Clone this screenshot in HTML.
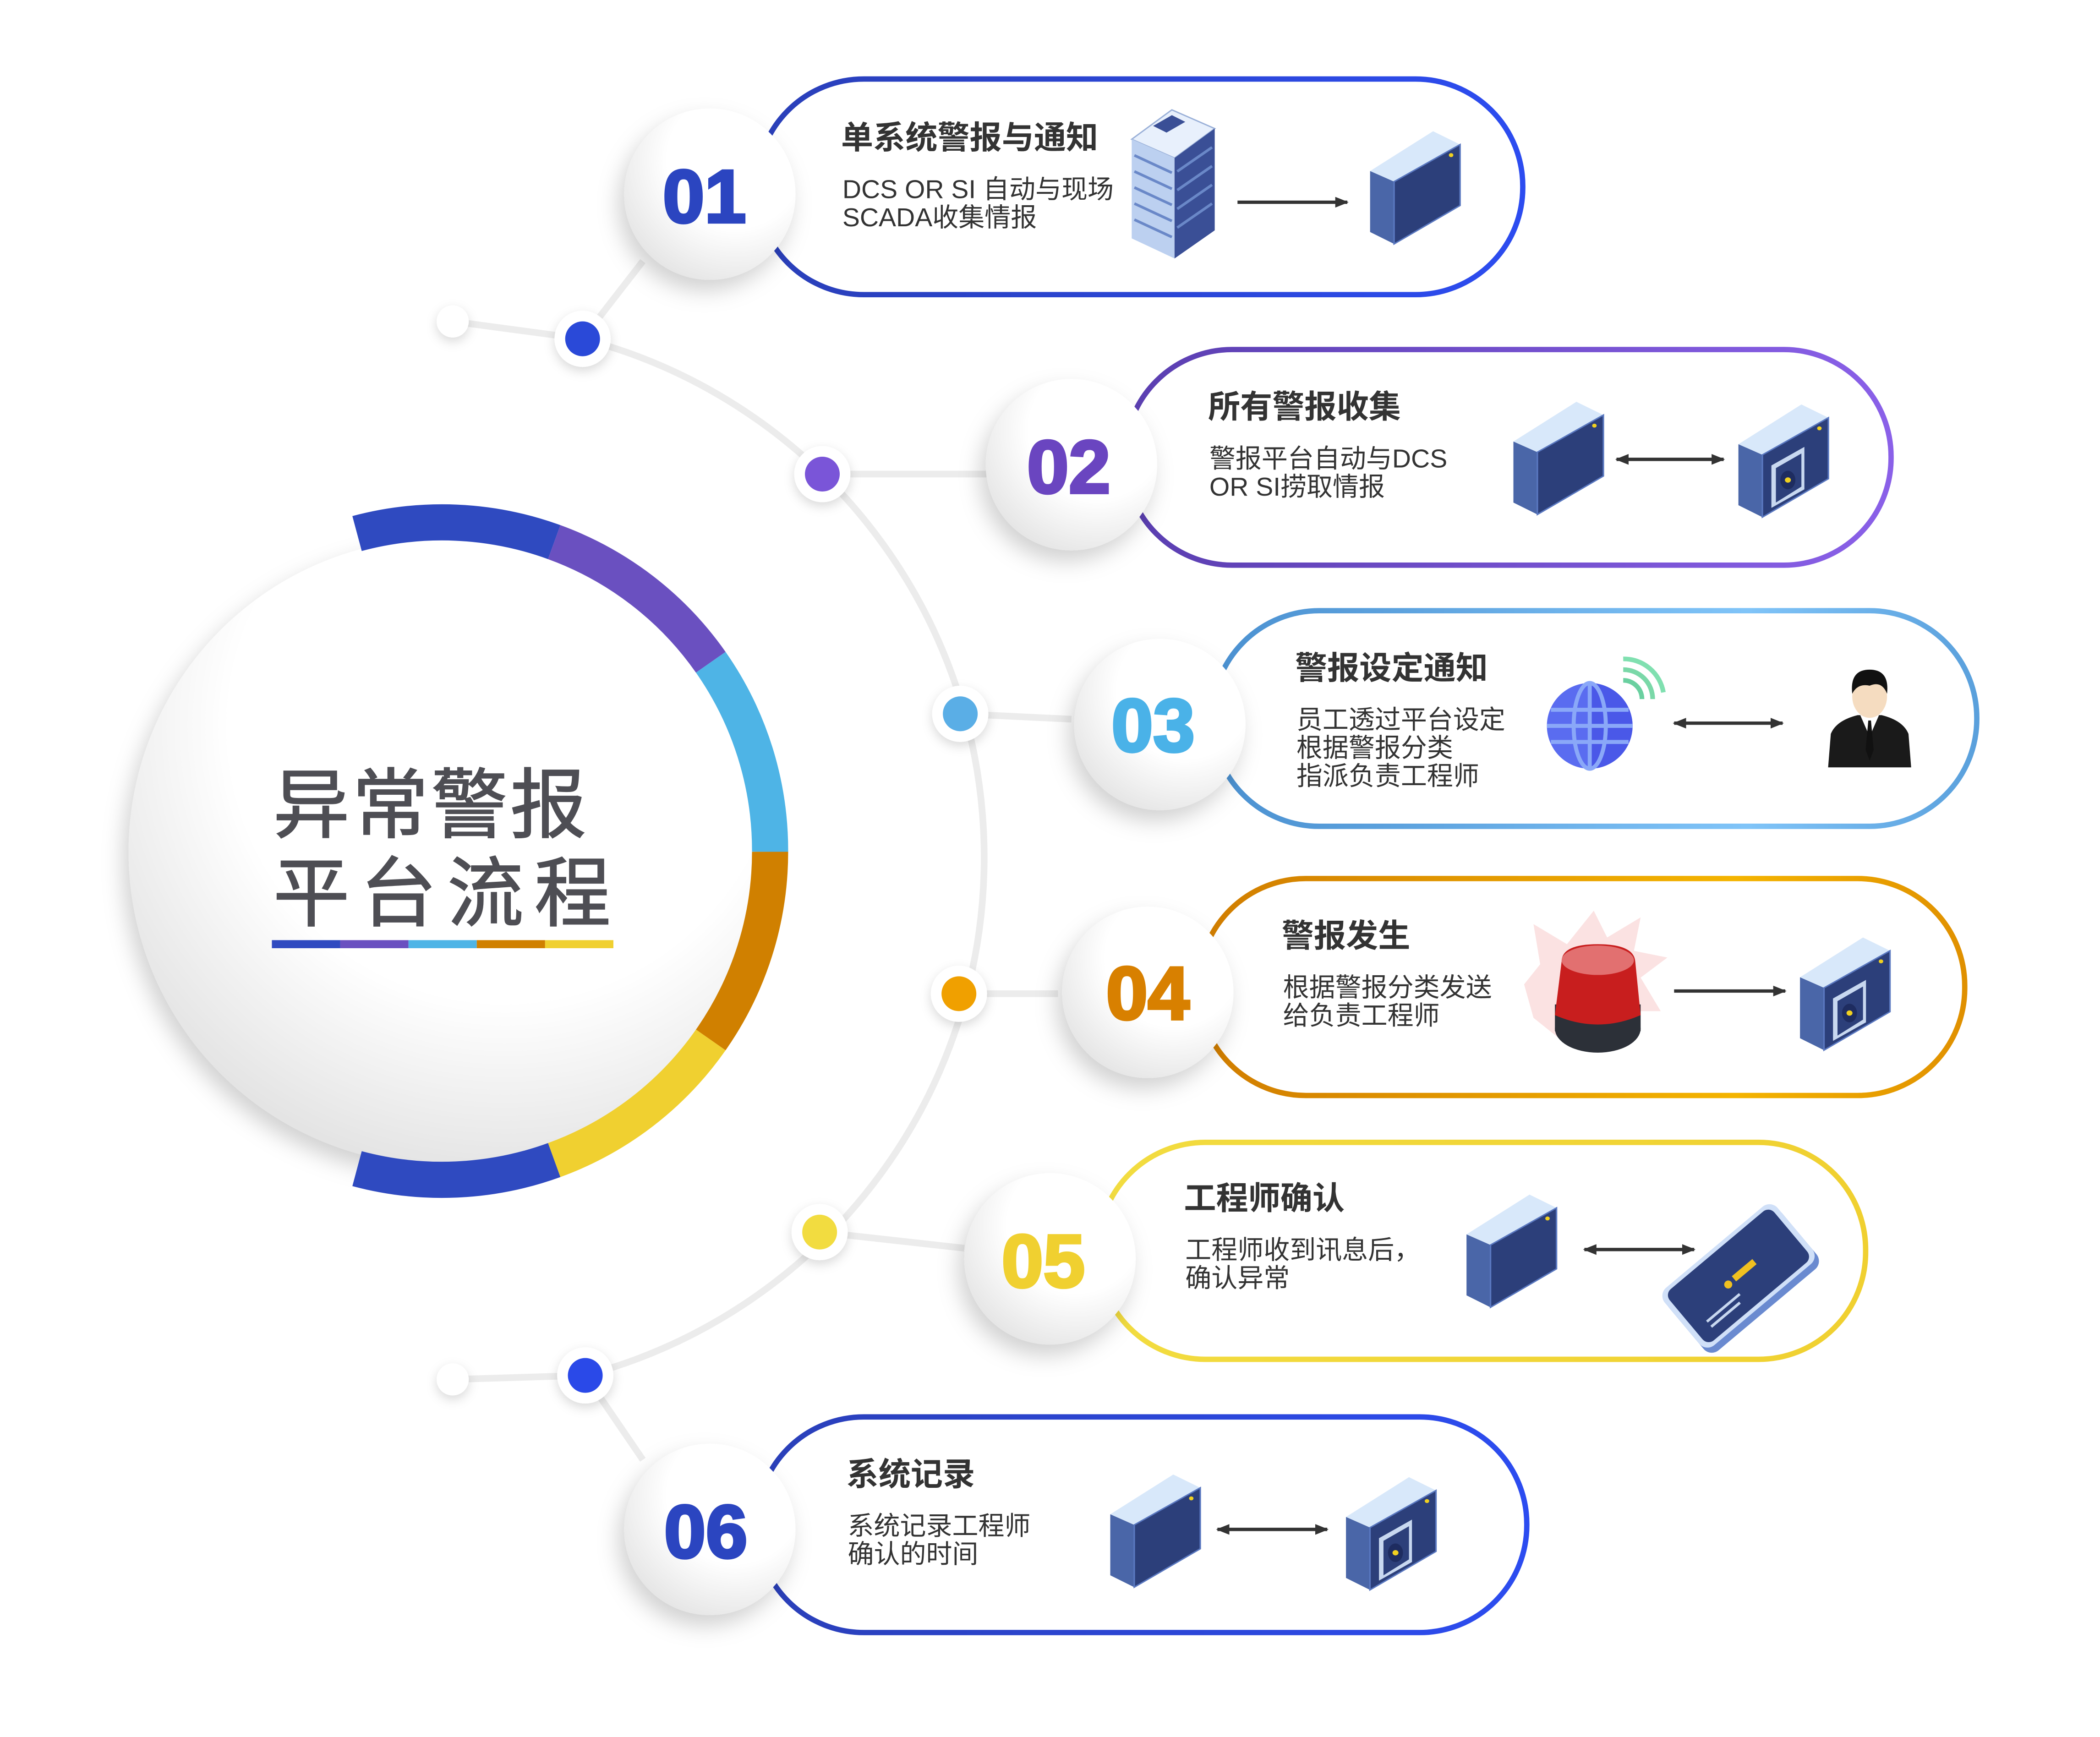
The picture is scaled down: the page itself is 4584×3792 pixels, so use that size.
<!DOCTYPE html>
<html><head><meta charset="utf-8"><style>
html,body{margin:0;padding:0;background:#fff;}
svg{display:block;}
text{font-family:"Liberation Sans","Noto Sans CJK SC",sans-serif;}
</style></head><body>
<svg width="4584" height="3792" viewBox="0 0 1568 1297" preserveAspectRatio="none" xmlns="http://www.w3.org/2000/svg">
<defs>
<filter id="sh" x="-30%" y="-30%" width="160%" height="160%"><feDropShadow dx="-4" dy="8" stdDeviation="8" flood-color="#000" flood-opacity="0.18"/></filter>
<filter id="sh2" x="-50%" y="-50%" width="200%" height="200%"><feDropShadow dx="0" dy="3" stdDeviation="4" flood-color="#000" flood-opacity="0.15"/></filter>
<radialGradient id="cg" cx="0.6" cy="0.3" r="0.8"><stop offset="0.55" stop-color="#fff"/><stop offset="1" stop-color="#dcdcdc"/></radialGradient>
<radialGradient id="ng" cx="0.65" cy="0.3" r="0.8"><stop offset="0.5" stop-color="#fff"/><stop offset="1" stop-color="#e2e2e2"/></radialGradient>
<linearGradient id="g1"><stop offset="0" stop-color="#2a3fb8"/><stop offset="1" stop-color="#2c4cf0"/></linearGradient>
<linearGradient id="g2"><stop offset="0" stop-color="#5a3eb0"/><stop offset="1" stop-color="#8a60e8"/></linearGradient>
<linearGradient id="g3"><stop offset="0" stop-color="#4a90d0"/><stop offset="0.7" stop-color="#80c4f8"/><stop offset="1" stop-color="#5aa0dc"/></linearGradient>
<linearGradient id="g4"><stop offset="0" stop-color="#d07c00"/><stop offset="0.7" stop-color="#f4b400"/><stop offset="1" stop-color="#e09000"/></linearGradient>
<linearGradient id="g5"><stop offset="0" stop-color="#f2dc40"/><stop offset="1" stop-color="#f0d030"/></linearGradient>
<marker id="ae" markerWidth="10" markerHeight="8" refX="9" refY="4" orient="auto" markerUnits="userSpaceOnUse"><path d="M0,0 L10,4 L0,8 Z" fill="#333"/></marker>
<marker id="as" markerWidth="10" markerHeight="8" refX="1" refY="4" orient="auto" markerUnits="userSpaceOnUse"><path d="M10,0 L0,4 L10,8 Z" fill="#333"/></marker>
<g id="box">
<polygon points="0,30 42,0 60,10 16,38" fill="#d8e8fa"/>
<polygon points="0,30 16,38 16,85 0,76" fill="#4a66a8"/>
<polygon points="16,38 60,10 60,56 16,85" fill="#2c3f7a" stroke="#5a78c0" stroke-width="1"/>
<circle cx="54" cy="18" r="1.5" fill="#f0d020"/>
</g>
<g id="cam">
<use href="#box"/>
<polygon points="22,46 44,32 44,64 22,78" fill="#c8d8f0"/>
<polygon points="25,48 42,37 42,62 25,74" fill="#2c3f7a"/>
<ellipse cx="33" cy="57" rx="5" ry="7" fill="#1e2c60"/>
<circle cx="33" cy="57" r="2" fill="#f0d020"/>
</g>
</defs>

<path d="M435 253 A400 400 0 0 1 437 1027" fill="none" stroke="#ececec" stroke-width="5"/>
<path d="M338 240 L435 253 M338 1030 L437 1027 M435 253 L480 195 M437 1027 L480 1090" stroke="#ececec" stroke-width="5" fill="none"/>
<path d="M614 354 L740 354 M717 533 L800 537 M716 742 L790 742 M612 920 L720 932" stroke="#ececec" stroke-width="5" fill="none"/>

<rect x="565" y="59" width="572" height="161" rx="80" fill="#fff" stroke="url(#g1)" stroke-width="4"/>
<rect x="840" y="261" width="572" height="161" rx="80" fill="#fff" stroke="url(#g2)" stroke-width="4"/>
<rect x="905" y="456" width="571" height="161" rx="80" fill="#fff" stroke="url(#g3)" stroke-width="4"/>
<rect x="895" y="656" width="572" height="162" rx="80" fill="#fff" stroke="url(#g4)" stroke-width="4"/>
<rect x="820" y="853" width="573" height="162" rx="80" fill="#fff" stroke="url(#g5)" stroke-width="4"/>
<rect x="565" y="1058" width="575" height="161" rx="80" fill="#fff" stroke="url(#g1)" stroke-width="4"/>

<circle cx="330" cy="636" r="234" fill="url(#cg)" filter="url(#sh)"/>
<g fill="none" stroke-width="27">
<path d="M266.6 398.4 A245 245 0 0 1 413.8 404.8" stroke="#2f4ac0"/>
<path d="M413.8 404.8 A245 245 0 0 1 530.7 494.5" stroke="#6a50c0"/>
<path d="M530.7 494.5 A245 245 0 0 1 575 636" stroke="#4eb4e6"/>
<path d="M575 636 A245 245 0 0 1 530.7 776.5" stroke="#d08000"/>
<path d="M530.7 776.5 A245 245 0 0 1 413.8 866.2" stroke="#f0d030"/>
<path d="M413.8 866.2 A245 245 0 0 1 266.6 872.6" stroke="#2f4ac0"/>
</g>
<text x="204" y="621" font-size="57" fill="#4e4e54" stroke="#4e4e54" stroke-width="0.8" letter-spacing="2">异常警报</text>
<text x="204" y="687" font-size="57" fill="#4e4e54" stroke="#4e4e54" stroke-width="0.8" letter-spacing="8">平台流程</text>
<g stroke-width="6" stroke-linecap="butt">
<line x1="203" y1="705" x2="254" y2="705" stroke="#2f4ac0"/>
<line x1="254" y1="705" x2="305" y2="705" stroke="#6a50c0"/>
<line x1="305" y1="705" x2="356" y2="705" stroke="#4eb4e6"/>
<line x1="356" y1="705" x2="407" y2="705" stroke="#d08000"/>
<line x1="407" y1="705" x2="458" y2="705" stroke="#f0d030"/>
</g>

<g filter="url(#sh2)">
<circle cx="338" cy="240" r="12" fill="#fff"/>
<circle cx="338" cy="1030" r="12" fill="#fff"/>
<circle cx="435" cy="253" r="21" fill="#fff"/><circle cx="435" cy="253" r="13" fill="#2a48d8"/>
<circle cx="614" cy="354" r="21" fill="#fff"/><circle cx="614" cy="354" r="13" fill="#7a55d8"/>
<circle cx="717" cy="533" r="21" fill="#fff"/><circle cx="717" cy="533" r="13" fill="#5aaee6"/>
<circle cx="716" cy="742" r="21" fill="#fff"/><circle cx="716" cy="742" r="13" fill="#f0a000"/>
<circle cx="612" cy="920" r="21" fill="#fff"/><circle cx="612" cy="920" r="13" fill="#f2dc40"/>
<circle cx="437" cy="1027" r="21" fill="#fff"/><circle cx="437" cy="1027" r="13" fill="#2a48e8"/>
</g>

<g filter="url(#sh)">
<circle cx="530" cy="145" r="64" fill="url(#ng)"/>
<circle cx="800" cy="347" r="64" fill="url(#ng)"/>
<circle cx="866" cy="541" r="64" fill="url(#ng)"/>
<circle cx="857" cy="741" r="64" fill="url(#ng)"/>
<circle cx="784" cy="940" r="64" fill="url(#ng)"/>
<circle cx="530" cy="1142" r="64" fill="url(#ng)"/>
</g>
<g font-size="56" font-weight="bold" text-anchor="middle" stroke-width="2">
<text x="526" y="166" fill="#2b45c0" stroke="#2b45c0">01</text>
<text x="798" y="368" fill="#6a45c0" stroke="#6a45c0">02</text>
<text x="861" y="561" fill="#4ab2e8" stroke="#4ab2e8">03</text>
<text x="857" y="761" fill="#d88000" stroke="#d88000">04</text>
<text x="779" y="961" fill="#f0d030" stroke="#f0d030">05</text>
<text x="527" y="1163" fill="#2b45c0" stroke="#2b45c0">06</text>
</g>

<g fill="#333">
<text x="628" y="111" font-size="24" font-weight="bold">单系统警报与通知</text>
<text x="629" y="148" font-size="19.5">DCS OR SI 自动与现场</text>
<text x="629" y="169" font-size="19.5">SCADA收集情报</text>
<text x="902" y="312" font-size="24" font-weight="bold">所有警报收集</text>
<text x="903" y="349" font-size="19.5">警报平台自动与DCS</text>
<text x="903" y="370" font-size="19.5">OR SI捞取情报</text>
<text x="967" y="507" font-size="24" font-weight="bold">警报设定通知</text>
<text x="968" y="544" font-size="19.5">员工透过平台设定</text>
<text x="968" y="565" font-size="19.5">根据警报分类</text>
<text x="968" y="586" font-size="19.5">指派负责工程师</text>
<text x="957" y="707" font-size="24" font-weight="bold">警报发生</text>
<text x="958" y="744" font-size="19.5">根据警报分类发送</text>
<text x="958" y="765" font-size="19.5">给负责工程师</text>
<text x="884" y="903" font-size="24" font-weight="bold">工程师确认</text>
<text x="885" y="940" font-size="19.5">工程师收到讯息后，</text>
<text x="885" y="961" font-size="19.5">确认异常</text>
<text x="632" y="1109" font-size="24" font-weight="bold">系统记录</text>
<text x="633" y="1146" font-size="19.5">系统记录工程师</text>
<text x="633" y="1167" font-size="19.5">确认的时间</text>
</g>

<g stroke="#333" stroke-width="2.5" fill="none">
<line x1="924" y1="151" x2="1006" y2="151" marker-end="url(#ae)"/>
<line x1="1207" y1="343" x2="1287" y2="343" marker-end="url(#ae)" marker-start="url(#as)"/>
<line x1="1250" y1="540" x2="1331" y2="540" marker-end="url(#ae)" marker-start="url(#as)"/>
<line x1="1250" y1="740" x2="1333" y2="740" marker-end="url(#ae)"/>
<line x1="1183" y1="933" x2="1265" y2="933" marker-end="url(#ae)" marker-start="url(#as)"/>
<line x1="909" y1="1142" x2="991" y2="1142" marker-end="url(#ae)" marker-start="url(#as)"/>
</g>

<g transform="translate(845,82)">
<polygon points="0,22 30,0 62,14 32,36" fill="#e8f0fc" stroke="#9ab0d8"/>
<polygon points="0,22 32,36 32,111 0,96" fill="#bcd0f0"/>
<polygon points="32,36 62,14 62,90 32,111" fill="#3a4f96"/>
<g stroke="#6a88c8" stroke-width="2">
<line x1="2" y1="34" x2="30" y2="47"/><line x1="2" y1="46" x2="30" y2="59"/><line x1="2" y1="58" x2="30" y2="71"/><line x1="2" y1="70" x2="30" y2="83"/><line x1="2" y1="82" x2="30" y2="95"/>
<line x1="34" y1="46" x2="60" y2="28"/><line x1="34" y1="60" x2="60" y2="42"/><line x1="34" y1="74" x2="60" y2="56"/><line x1="34" y1="88" x2="60" y2="70"/>
</g>
<polygon points="16,12 30,4 40,9 26,17" fill="#3a4f96"/>
</g>
<use href="#box" transform="translate(1023,98) scale(1.12,0.99)"/>
<use href="#box" transform="translate(1130,300) scale(1.12,0.99)"/>
<use href="#cam" transform="translate(1298,302) scale(1.12,0.99)"/>
<circle cx="1187" cy="542" r="32" fill="#5a6cf0"/>
<path d="M1187 510 A32 32 0 0 1 1187 574 Z" fill="#4a58e8"/>
<g stroke="#8aa8f8" stroke-width="3" fill="none">
<ellipse cx="1187" cy="542" rx="12" ry="32"/>
<line x1="1155" y1="542" x2="1219" y2="542"/>
<line x1="1158" y1="530" x2="1216" y2="530"/>
<line x1="1158" y1="554" x2="1216" y2="554"/>
<line x1="1187" y1="510" x2="1187" y2="574"/>
</g>
<g fill="none" stroke-width="3.5">
<path d="M1212 508 A14 14 0 0 1 1226 522" stroke="#6ad0a0"/>
<path d="M1212 500 A22 22 0 0 1 1234 522" stroke="#7ad8a8"/>
<path d="M1212 492 A30 30 0 0 1 1242 517" stroke="#80e0b0"/>
</g>
<g transform="translate(1365,498)">
<path d="M0,75 L2,50 Q6,40 22,36 L40,36 Q56,40 60,50 L62,75 Z" fill="#1a1a1a"/>
<polygon points="24,36 31,52 38,36" fill="#fff"/>
<polygon points="30,40 32,40 34,62 31,70 28,62" fill="#111"/>
<ellipse cx="31" cy="22" rx="13" ry="16" fill="#f5dcc0"/>
<path d="M18,20 Q16,2 31,2 Q46,2 44,20 Q40,10 31,14 Q22,12 18,20 Z" fill="#111"/>
</g>
<path d="M1150 720 L1145 690 L1170 705 L1190 680 L1200 700 L1225 685 L1220 710 L1245 715 L1225 730 L1240 755 L1218 755 L1215 780 L1170 780 L1145 760 L1138 735 Z" fill="#fbe2e2"/>
<ellipse cx="1193" cy="768" rx="32" ry="18" fill="#2c3038"/>
<rect x="1161" y="750" width="64" height="20" fill="#2c3038"/>
<path d="M1166 718 Q1166 705 1193 705 Q1220 705 1221 718 L1225 758 Q1193 772 1161 758 Z" fill="#c81e1e"/>
<ellipse cx="1193" cy="717" rx="27" ry="11" fill="#e27070"/>
<use href="#cam" transform="translate(1344,700) scale(1.12,0.99)"/>
<use href="#box" transform="translate(1095,892) scale(1.12,0.99)"/>
<g transform="translate(1300,955) rotate(-40)">
<rect x="-55" y="-26" width="110" height="56" rx="8" fill="#6a8ad0"/>
<rect x="-55" y="-31" width="110" height="56" rx="8" fill="#d0e0f8"/>
<rect x="-51" y="-28" width="102" height="50" rx="6" fill="#2c3f7a"/>
<rect x="-4" y="-6" width="20" height="5" fill="#f0c020"/>
<circle cx="-10" cy="-3" r="3" fill="#f0c020"/>
<line x1="-40" y1="8" x2="-8" y2="8" stroke="#c8d8f0" stroke-width="2"/>
<line x1="-40" y1="13" x2="-12" y2="13" stroke="#c8d8f0" stroke-width="2"/>
</g>
<use href="#box" transform="translate(829,1101) scale(1.12,0.99)"/>
<use href="#cam" transform="translate(1005,1103) scale(1.12,0.99)"/>
</svg>
</body></html>
